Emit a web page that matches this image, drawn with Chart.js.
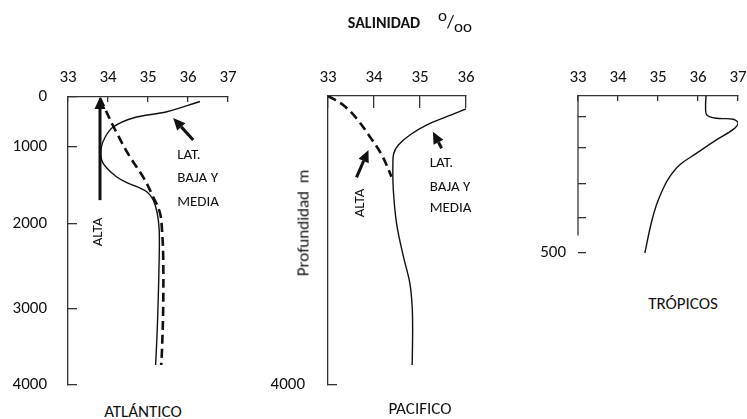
<!DOCTYPE html>
<html>
<head>
<meta charset="utf-8">
<script src="https://cdn.jsdelivr.net/npm/chart.js@4/dist/chart.umd.min.js"></script>
<style>
  body { margin: 0; background: #fff; }
  #wrap { position: relative; width: 747px; height: 419px; overflow: hidden;
          font-family: Carlito, Lato, sans-serif; color: #111; }
  canvas { position: absolute; top: 0; }
  .txt { position: absolute; white-space: nowrap; font-size: 17px;
         transform: translate(-50%, -50%); }
</style>
</head>
<body>
<div id="wrap">
  <canvas id="atl" width="240" height="400" style="left:0"></canvas>
  <canvas id="pac" width="230" height="400" style="left:250px"></canvas>
  <canvas id="trop" width="247" height="270" style="left:500px"></canvas>

  <div class="txt" style="left:384px;top:22px;font-weight:bold;font-size:16px">SALINIDAD</div>
  <div class="txt" style="left:455px;top:21px;font-size:18px"><sup style="font-size:17px">o</sup>/<sub style="font-size:17px">oo</sub></div>
  <div class="txt" style="left:143px;top:411px">ATLÁNTICO</div>
  <div class="txt" style="left:420px;top:408px">PACIFICO</div>
  <div class="txt" style="left:683px;top:303px">TRÓPICOS</div>
  <div class="txt" style="left:303px;top:223px;font-size:17px;transform:translate(-50%,-50%) rotate(-90deg)">Profundidad&nbsp; m</div>
</div>

<script>
// eje de salinidad (arriba) y de profundidad (izquierda)
const salTicks = [33, 34, 35, 36, 37];
const salTicksPac = [33, 34, 35, 36];
const depthTicksAtl = [0, 1000, 2000, 3000, 4000];
const depthTicksPac = [4000];
const depthTicksTrop = [100, 200, 300, 400, 500];
const depthLabelsTrop = ["", "", "", "", "500"];

// Atlántico - latitudes bajas y medias (línea continua)
const atlLowSal = [36.3, 35.47, 34.63, 34.13, 33.93, 33.83, 33.84, 33.97, 34.22, 34.47, 34.72, 34.97, 35.13, 35.23, 35.28, 35.28, 35.25, 35.22, 35.19];
const atlLowDepth = [90, 294, 420, 600, 800, 1013, 1169, 1273, 1390, 1464, 1516, 1581, 1688, 1857, 2071, 2388, 2976, 3408, 3737];
// Atlántico - latitudes altas (discontinua)
const atlHighSal = [33.8, 34.18, 34.55, 34.88, 35.13, 35.3, 35.35, 35.38, 35.38, 35.35, 35.33];
const atlHighDepth = [20, 660, 1130, 1390, 1649, 1857, 2071, 2388, 2976, 3539, 3737];

// Pacífico
const pacLowSal = [36.0, 35.58, 35.15, 34.78, 34.53, 34.43, 34.41, 34.42, 34.49, 34.64, 34.78, 34.83, 34.84, 34.83];
const pacLowDepth = [180, 286, 401, 540, 678, 793, 979, 1301, 1762, 2224, 2592, 2916, 3239, 3723];
const pacHighSal = [33.0, 33.33, 33.62, 33.91, 34.17, 34.38];
const pacHighDepth = [0, 125, 309, 563, 817, 1117];

// Trópicos (0-500 m)
const tropSal = [36.2, 36.19, 36.22, 36.46, 36.88, 37.0, 36.88, 36.46, 35.96, 35.54, 35.29, 35.13, 34.96, 34.83, 34.67];
const tropDepth = [0, 51, 90, 104, 107, 120, 140, 174, 215, 247, 280, 313, 362, 415, 500];

// flechas y rótulos, en unidades de los ejes [salinidad, profundidad]
const atlArrows = [
  { from: [33.8, 1690], to: [33.8, 0] },
  { from: [36.13, 860], to: [35.63, 420] }
];
const atlLabels = [
  { text: "LAT.", at: [35.73, 1104] },
  { text: "BAJA Y", at: [35.73, 1403] },
  { text: "MEDIA", at: [35.73, 1714] },
  { text: "ALTA", at: [33.75, 2094], vertical: true }
];
const pacArrows = [
  { from: [33.62, 1125], to: [33.88, 747] },
  { from: [35.47, 724], to: [35.28, 494] }
];
const pacLabels = [
  { text: "LAT.", at: [35.21, 927] },
  { text: "BAJA Y", at: [35.21, 1260] },
  { text: "MEDIA", at: [35.21, 1550] },
  { text: "ALTA", at: [33.7, 1481], vertical: true }
];

// escala de profundidad por tramos (el eje original no es regular)
function piecewiseScale(id, values, fracs) {
  function toDec(v) {
    let i = 1;
    while (i < values.length - 1 && v > values[i]) i++;
    const t = (v - values[i - 1]) / (values[i] - values[i - 1]);
    return fracs[i - 1] + t * (fracs[i] - fracs[i - 1]);
  }
  class S extends Chart.LinearScale {
    getPixelForValue(value) {
      return value === null ? NaN : this.getPixelForDecimal(toDec(value));
    }
    getValueForPixel(pixel) {
      const d = this.getDecimalForPixel(pixel);
      let i = 1;
      while (i < fracs.length - 1 && d > fracs[i]) i++;
      const t = (d - fracs[i - 1]) / (fracs[i] - fracs[i - 1]);
      return values[i - 1] + t * (values[i] - values[i - 1]);
    }
  }
  S.id = id;
  S.defaults = Chart.LinearScale.defaults;
  return S;
}
Chart.register(
  piecewiseScale("depthAtl", [0, 1000, 2000, 3000, 4000], [0, 0.1736, 0.441, 0.736, 1]),
  piecewiseScale("depthTrop", [0, 100, 200, 300, 400, 500], [0, 0.134, 0.331, 0.561, 0.777, 1])
);

function notesPlugin(arrows, labels, axisEnd) {
  return {
    id: "notes",
    afterDatasetsDraw(chart) {
      const ctx = chart.ctx, xs = chart.scales.x, ys = chart.scales.y;
      ctx.save();
      ctx.strokeStyle = "#111";
      ctx.fillStyle = "#111";
      if (axisEnd) {
        // el eje vertical del panel de trópicos no llega hasta la marca de 500
        ctx.strokeStyle = "#333";
        ctx.lineWidth = 1.3;
        ctx.beginPath();
        ctx.moveTo(chart.chartArea.left, ys.getPixelForValue(0));
        ctx.lineTo(chart.chartArea.left, ys.getPixelForValue(axisEnd));
        ctx.stroke();
        ctx.strokeStyle = "#111";
      }
      ctx.lineWidth = 3;
      arrows.forEach(function (a) {
        const x1 = xs.getPixelForValue(a.from[0]), y1 = ys.getPixelForValue(a.from[1]);
        const x2 = xs.getPixelForValue(a.to[0]), y2 = ys.getPixelForValue(a.to[1]);
        const ang = Math.atan2(y2 - y1, x2 - x1);
        const bx = x2 - 12 * Math.cos(ang), by = y2 - 12 * Math.sin(ang);
        ctx.beginPath();
        ctx.moveTo(x1, y1);
        ctx.lineTo(bx, by);
        ctx.stroke();
        ctx.beginPath();
        ctx.moveTo(x2, y2);
        ctx.lineTo(bx + 5.5 * Math.sin(ang), by - 5.5 * Math.cos(ang));
        ctx.lineTo(bx - 5.5 * Math.sin(ang), by + 5.5 * Math.cos(ang));
        ctx.closePath();
        ctx.fill();
      });
      ctx.font = "15px Carlito, Lato, sans-serif";
      ctx.textBaseline = "middle";
      labels.forEach(function (l) {
        ctx.save();
        ctx.translate(xs.getPixelForValue(l.at[0]), ys.getPixelForValue(l.at[1]));
        if (l.vertical) {
          ctx.rotate(-Math.PI / 2);
          ctx.textAlign = "center";
        } else {
          ctx.textAlign = "left";
        }
        ctx.fillText(l.text, 0, 0);
        ctx.restore();
      });
      ctx.restore();
    }
  };
}

function pts(xs, ys) {
  return xs.map(function (x, i) { return { x: x, y: ys[i] }; });
}

function noPadding(s) {
  s.paddingLeft = 0;
  s.paddingRight = 0;
  s.paddingTop = 0;
  s.paddingBottom = 0;
}

const tickFont = { family: "Carlito, Lato, sans-serif", size: 17 };

function makeChart(id, cfg) {
  new Chart(document.getElementById(id), {
    type: "scatter",
    data: { datasets: cfg.datasets },
    options: {
      responsive: false,
      animation: false,
      events: [],
      layout: { autoPadding: false, padding: cfg.padding },
      elements: { point: { radius: 0 } },
      plugins: { legend: { display: false }, tooltip: { enabled: false } },
      scales: {
        x: {
          type: "linear",
          position: "top",
          min: cfg.sal[0],
          max: cfg.sal[cfg.sal.length - 1],
          afterBuildTicks: function (s) { s.ticks = cfg.sal.map(function (v) { return { value: v }; }); },
          afterFit: function (s) { s.height = cfg.top; noPadding(s); },
          grid: { drawOnChartArea: false, tickLength: -cfg.xTick, color: "#333", lineWidth: 1.3 },
          border: { color: "#333", width: 1.3 },
          ticks: { color: "#111", font: tickFont, padding: cfg.top + cfg.xTick - 88 }
        },
        y: {
          type: cfg.yType,
          position: "left",
          reverse: true,
          min: 0,
          max: cfg.yMax,
          afterBuildTicks: function (s) { s.ticks = cfg.depth.map(function (v) { return { value: v }; }); },
          afterFit: function (s) { s.width = cfg.left; noPadding(s); },
          grid: { drawOnChartArea: false, tickLength: -cfg.yTick, color: "#333", lineWidth: 1.3 },
          border: { display: !cfg.axisEnd, color: "#333", width: 1.3 },
          ticks: {
            color: "#111",
            font: tickFont,
            padding: cfg.yPad,
            callback: function (value, index) {
              return cfg.depthLabels ? cfg.depthLabels[index] : String(value);
            }
          }
        }
      }
    },
    plugins: [notesPlugin(cfg.arrows || [], cfg.labels || [], cfg.axisEnd)]
  });
}

const solid = { showLine: true, borderColor: "#111", borderWidth: 1.4, tension: 0.35, fill: false };
const dashed = { showLine: true, borderColor: "#111", borderWidth: 2.6, borderDash: [9, 5], tension: 0.35, fill: false };

makeChart("atl", {
  sal: salTicks, depth: depthTicksAtl, yType: "depthAtl", yMax: 4000,
  top: 97, left: 68, padding: { left: 0, top: 0, right: 12, bottom: 15 },
  xTick: 5, yTick: 9, yPad: 30,
  datasets: [
    Object.assign({ data: pts(atlLowSal, atlLowDepth) }, solid),
    Object.assign({ data: pts(atlHighSal, atlHighDepth) }, dashed)
  ],
  arrows: atlArrows, labels: atlLabels
});

makeChart("pac", {
  sal: salTicksPac, depth: depthTicksPac, yType: "linear", yMax: 4000,
  top: 96, left: 78, padding: { left: 0, top: 0, right: 14, bottom: 15 },
  xTick: 12, yTick: 9, yPad: 32,
  datasets: [
    Object.assign({ data: pts(pacLowSal, pacLowDepth) }, solid),
    Object.assign({ data: pts(pacHighSal, pacHighDepth) }, dashed)
  ],
  arrows: pacArrows, labels: pacLabels
});

makeChart("trop", {
  sal: salTicks, depth: depthTicksTrop, depthLabels: depthLabelsTrop, yType: "depthTrop", yMax: 500,
  top: 96, left: 78, padding: { left: 0, top: 0, right: 9, bottom: 17 },
  xTick: 5, yTick: 8, yPad: 20, axisEnd: 450,
  datasets: [
    Object.assign({ data: pts(tropSal, tropDepth) }, solid)
  ]
});
</script>
</body>
</html>
